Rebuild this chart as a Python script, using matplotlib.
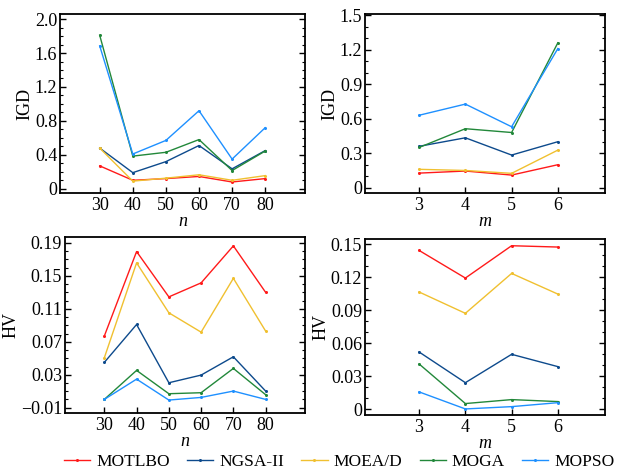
import numpy as np
import matplotlib
matplotlib.use('Agg')
import matplotlib.pyplot as plt
from matplotlib.ticker import AutoMinorLocator

plt.rcParams['font.family'] = ['Liberation Serif', 'DejaVu Serif']
plt.rcParams['mathtext.fontset'] = 'stix'

algorithms = ['MOTLBO', 'NGSA-II', 'MOEA/D', 'MOGA', 'MOPSO']
colors = ['#ff1a1a', '#0d4a8c', '#f0c030', '#22883a', '#1e90ff']

n_values = [30, 40, 50, 60, 70, 80]
m_values = [3, 4, 5, 6]

# IGD vs n
igd_n = {
    'MOTLBO': [0.27, 0.10, 0.12, 0.145, 0.08, 0.12],
    'NGSA-II': [0.48, 0.19, 0.32, 0.51, 0.235, 0.45],
    'MOEA/D': [0.48, 0.09, 0.125, 0.165, 0.10, 0.155],
    'MOGA': [1.81, 0.385, 0.43, 0.58, 0.215, 0.445],
    'MOPSO': [1.685, 0.41, 0.57, 0.92, 0.35, 0.72],
}
# IGD vs m
igd_m = {
    'MOTLBO': [0.127, 0.145, 0.11, 0.20],
    'NGSA-II': [0.36, 0.434, 0.284, 0.40],
    'MOEA/D': [0.16, 0.15, 0.125, 0.327],
    'MOGA': [0.35, 0.513, 0.48, 1.26],
    'MOPSO': [0.63, 0.727, 0.53, 1.21],
}
# HV vs n
hv_n = {
    'MOTLBO': [0.077, 0.1795, 0.1245, 0.1415, 0.1864, 0.130],
    'NGSA-II': [0.045, 0.091, 0.0203, 0.0296, 0.0518, 0.0102],
    'MOEA/D': [0.0506, 0.1658, 0.1052, 0.0817, 0.147, 0.083],
    'MOGA': [0.0001, 0.0353, 0.007, 0.0082, 0.0377, 0.0058],
    'MOPSO': [0.0001, 0.0247, -0.0007, 0.0025, 0.0102, 0.0001],
}
# HV vs m
hv_m = {
    'MOTLBO': [0.1445, 0.1194, 0.1488, 0.1476],
    'NGSA-II': [0.0521, 0.0242, 0.050, 0.0388],
    'MOEA/D': [0.1067, 0.0873, 0.1236, 0.1048],
    'MOGA': [0.0412, 0.0052, 0.0088, 0.007],
    'MOPSO': [0.0158, 0.0003, 0.0024, 0.006],
}

fig = plt.figure(figsize=(6.17, 4.74), dpi=100)

panels = [
    # rect, x, data, xlabel, ylabel, xlim, ylim, yticks, yticklabels, minor
    ([0.0972, 0.5928, 0.397, 0.3776], n_values, igd_n, 'n', 'IGD',
     (18, 92), (-0.05, 2.06), [0, 0.4, 0.8, 1.2, 1.6, 2.0],
     ['0', '0.4', '0.8', '1.2', '1.6', '2.0'], 4),
    ([0.5916, 0.5928, 0.389, 0.3776], m_values, igd_m, 'm', 'IGD',
     (1.83, 7.02), (-0.046, 1.51), [0, 0.3, 0.6, 0.9, 1.2, 1.5],
     ['0', '0.3', '0.6', '0.9', '1.2', '1.5'], 3),
    ([0.1053, 0.1287, 0.389, 0.371], n_values, hv_n, 'n', 'HV',
     (17.8, 92.2), (-0.0164, 0.197), [-0.01, 0.03, 0.07, 0.11, 0.15, 0.19],
     ['\u22120.01', '0.03', '0.07', '0.11', '0.15', '0.19'], 4),
    ([0.5916, 0.1245, 0.389, 0.371], m_values, hv_m, 'm', 'HV',
     (1.83, 7.02), (-0.0052, 0.1548), [0, 0.03, 0.06, 0.09, 0.12, 0.15],
     ['0', '0.03', '0.06', '0.09', '0.12', '0.15'], 3),
]

handles = []
for rect, xs, data, xlab, ylab, xlim, ylim, yt, ytl, nminor in panels:
    ax = fig.add_axes(rect)
    hs = []
    for name, c in zip(algorithms, colors):
        h, = ax.plot(xs, data[name], '-', color=c, lw=1.0, marker='o',
                     ms=2.2, mew=0, label=name)
        hs.append(h)
    handles = hs
    ax.set_xlim(*xlim)
    ax.set_ylim(*ylim)
    ax.set_xticks(xs)
    ax.set_yticks(yt)
    ax.set_yticklabels(ytl)
    ax.yaxis.set_minor_locator(AutoMinorLocator(nminor))
    ax.tick_params(axis='y', which='both', direction='in', left=True, right=True,
                   labelsize=13, pad=2)
    ax.tick_params(axis='y', which='major', length=4, width=1)
    ax.tick_params(axis='y', which='minor', length=2, width=0.8)
    ax.tick_params(axis='x', which='both', direction='in', top=False,
                   length=4, width=1, labelsize=13, pad=3)
    for s in ax.spines.values():
        s.set_linewidth(1.3)
    ax.set_xlabel(xlab, fontsize=13, style='italic', labelpad=-1)
    ax.set_ylabel(ylab, fontsize=13, labelpad=1)

fig.legend(handles, algorithms, loc='center', bbox_to_anchor=(0.55, 0.026),
           ncol=5, frameon=False, fontsize=12.5, handlelength=1.5,
           handletextpad=0.35, columnspacing=1.0)

fig.savefig('out.png', dpi=100)
